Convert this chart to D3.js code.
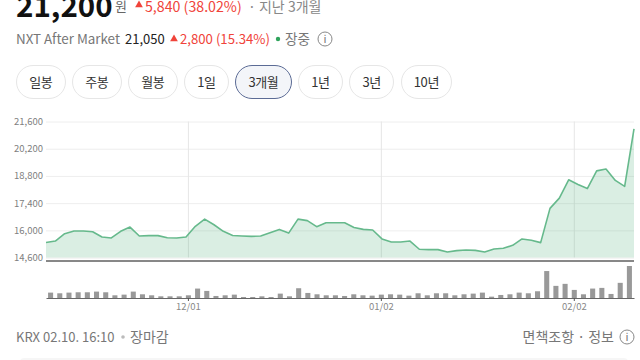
<!DOCTYPE html>
<html>
    <head>
        <meta charset="utf-8" />
        <title>3개월 차트</title>
        <script src="https://d3js.org/d3.v7.min.js"></script>
        <style>
            html, body { margin: 0; padding: 0; background: #fff; overflow: hidden; }
            body { width: 640px; height: 360px; position: relative; font-family: "Noto Sans CJK KR", "Noto Sans", sans-serif; }
            svg { position: absolute; left: 0; top: 0; }
            #periods { position: absolute; left: 16px; top: 65px; display: flex; gap: 6.5px; }
            #periods div {
                box-sizing: border-box; height: 34px; line-height: 31px; padding: 0 12.2px;
                border: 1.5px solid #e6e6e6; border-radius: 17px;
                font-size: 13px; letter-spacing: -0.4px; color: #333; background: #fff; text-align: center;
            }
            #periods div.on { border-color: #5b6b95; background: #f3f5f9; }
        </style>
    </head>
    <body>
        <svg width="640" height="360"></svg>
        <div id="periods"></div>
        <script>
            // 거래일 (일봉)
            const dates = [
                "11/10", "11/11", "11/12", "11/13", "11/14", "11/17", "11/18", "11/19",
                "11/20", "11/21", "11/24", "11/25", "11/26", "11/27", "11/28", "12/01",
                "12/02", "12/03", "12/04", "12/05", "12/08", "12/09", "12/10", "12/11",
                "12/12", "12/15", "12/16", "12/17", "12/18", "12/19", "12/22", "12/23",
                "12/24", "12/26", "12/29", "12/30", "01/02", "01/05", "01/06", "01/07",
                "01/08", "01/09", "01/12", "01/13", "01/14", "01/15", "01/16", "01/19",
                "01/20", "01/21", "01/22", "01/23", "01/26", "01/27", "01/28", "01/29",
                "01/30", "02/02", "02/03", "02/04", "02/05", "02/06", "02/09", "02/10",
            ];
            // 종가
            const prices = [
                15380, 15450, 15830, 15970, 15970, 15930, 15660, 15610,
                15950, 16170, 15710, 15730, 15730, 15620, 15610, 15660,
                16210, 16580, 16290, 15950, 15740, 15710, 15690, 15710,
                15880, 16050, 15860, 16580, 16500, 16190, 16390, 16390,
                16390, 16150, 16050, 16020, 15560, 15400, 15400, 15450,
                15030, 15010, 15010, 14890, 14960, 14990, 14970, 14890,
                15040, 15080, 15230, 15560, 15490, 15370, 17130, 17660,
                18600, 18360, 18150, 19060, 19160, 18570, 18260, 21220,
            ];
            // 거래량 (상대값)
            const volumes = [
                16, 14, 16, 17, 17, 19, 17, 8, 10, 19, 11, 8, 5, 5, 5, 8,
                28, 21, 6, 8, 10, 3, 3, 5, 3, 13, 5, 29, 15, 11, 8, 8,
                6, 11, 8, 7, 10, 11, 10, 7, 14, 8, 14, 14, 8, 11, 13, 16,
                4, 9, 11, 16, 14, 20, 80, 36, 42, 24, 11, 28, 30, 12, 45, 95,
            ];
            const yTicks = [14600, 16000, 17400, 18800, 20200, 21600];
            const xTickDates = ["12/01", "01/02", "02/02"];
            const periodLabels = ["일봉", "주봉", "월봉", "1일", "3개월", "1년", "3년", "10년"];

            const svg = d3.select("svg");
            const left = 46, right = 634;

            const x = d3.scalePoint().domain(dates).range([left, right]);
            const xBand = d3.scaleBand().domain(dates).range([left, right]).paddingInner(0.45).paddingOuter(0.225);
            const y = d3.scaleLinear().domain([14600, 21600]).range([257.6, 121.5]);
            const yVol = d3.scaleLinear().domain([0, d3.max(volumes)]).range([298, 266]);
            const xCenter = (d) => xBand(d) + xBand.bandwidth() / 2;

            // 가로 격자 + 가격 눈금
            const yAxis = svg.append("g")
                .attr("transform", `translate(${left},0)`)
                .call(d3.axisLeft(y).tickValues(yTicks).tickSize(-(right - left)).tickPadding(3).tickFormat(d3.format(",")));
            yAxis.select(".domain").remove();
            yAxis.selectAll("line").attr("stroke", "#eeeeee");
            yAxis.selectAll("text").attr("fill", "#808080").style("font-size", "9.5px").style("font-family", '"Noto Sans CJK KR"');

            // 세로 격자
            svg.append("g").selectAll("line").data(xTickDates).join("line")
                .attr("x1", xCenter).attr("x2", xCenter)
                .attr("y1", y(21600)).attr("y2", y(14600))
                .attr("stroke", "#e6e6e6");

            // 가격 영역과 선
            svg.append("path").datum(prices)
                .attr("fill", "rgba(72,170,115,0.2)")
                .attr("d", d3.area().x((d, i) => x(dates[i])).y0(y(14600)).y1((d) => y(d)));
            svg.append("path").datum(prices)
                .attr("fill", "none").attr("stroke", "#66b98c").attr("stroke-width", 1.6)
                .attr("stroke-linejoin", "round")
                .attr("d", d3.line().x((d, i) => x(dates[i])).y((d) => y(d)));

            // 가격 영역 아래 검은 선
            svg.append("line").attr("x1", left).attr("x2", right).attr("y1", 261).attr("y2", 261).attr("stroke", "#111");

            // 거래량 막대
            svg.append("g").selectAll("rect").data(volumes).join("rect")
                .attr("x", (d, i) => xBand(dates[i]))
                .attr("width", xBand.bandwidth())
                .attr("y", (d) => yVol(d))
                .attr("height", (d) => yVol(0) - yVol(d))
                .attr("fill", "#999");

            // 거래량 축
            const xAxis = svg.append("g")
                .attr("transform", "translate(0,298)")
                .call(d3.axisBottom(xBand).tickValues(xTickDates).tickSize(3).tickPadding(2).tickSizeOuter(0));
            xAxis.select(".domain").attr("stroke", "#666").attr("stroke-width", 1.2);
            xAxis.selectAll("line").attr("stroke", "#555");
            xAxis.selectAll("text").attr("fill", "#888").style("font-size", "9.5px").style("font-family", '"Noto Sans CJK KR"');

            // 기간 버튼
            d3.select("#periods").selectAll("div").data(periodLabels).join("div")
                .classed("on", (d) => d === "3개월")
                .text((d) => d);

            // 머리글 글자
            const label = (tx, ty, str, size, color, weight, anchor) =>
                svg.append("text").attr("x", tx).attr("y", ty).attr("font-size", size)
                    .attr("fill", color).attr("font-weight", weight || 400)
                    .attr("text-anchor", anchor || "start").text(str);
            const upMark = (cx, cy) =>
                svg.append("path").attr("transform", `translate(${cx},${cy})`)
                    .attr("d", d3.symbol(d3.symbolTriangle, 26)).attr("fill", "#f0433a");
            const infoMark = (cx, cy) => {
                svg.append("circle").attr("cx", cx).attr("cy", cy).attr("r", 7)
                    .attr("fill", "none").attr("stroke", "#888");
                label(cx, cy + 4, "i", 11, "#777", 400, "middle");
            };

            label(16, 17, "21,200", 29.5, "#111", 700);
            label(115, 11, "원", 13, "#666");
            upMark(139, 5);
            label(145, 12, "5,840 (38.02%)", 14.2, "#f0433a");
            label(248, 12, "· 지난 3개월", 14, "#888");

            label(16, 44, "NXT After Market", 13.4, "#777");
            label(125, 44, "21,050", 13, "#222");
            upMark(174, 39);
            label(180, 44, "2,800 (15.34%)", 13.2, "#f0433a");
            svg.append("circle").attr("cx", 278).attr("cy", 39).attr("r", 2.2).attr("fill", "#2fa35c");
            label(285, 44, "장중", 13.6, "#777");
            infoMark(325, 39);

            label(16, 342, "KRX 02.10. 16:10", 13, "#777");
            svg.append("circle").attr("cx", 123).attr("cy", 337).attr("r", 1.8).attr("fill", "#bbb");
            label(130, 342, "장마감", 14, "#777");
            label(614, 342, "면책조항 · 정보", 14, "#777", 400, "end");
            infoMark(627, 337);

            // 아래쪽 옅은 띠
            svg.append("rect").attr("x", 20).attr("y", 358).attr("width", 608).attr("height", 8).attr("rx", 4).attr("fill", "#f6f6f6");
        </script>
    </body>
</html>
